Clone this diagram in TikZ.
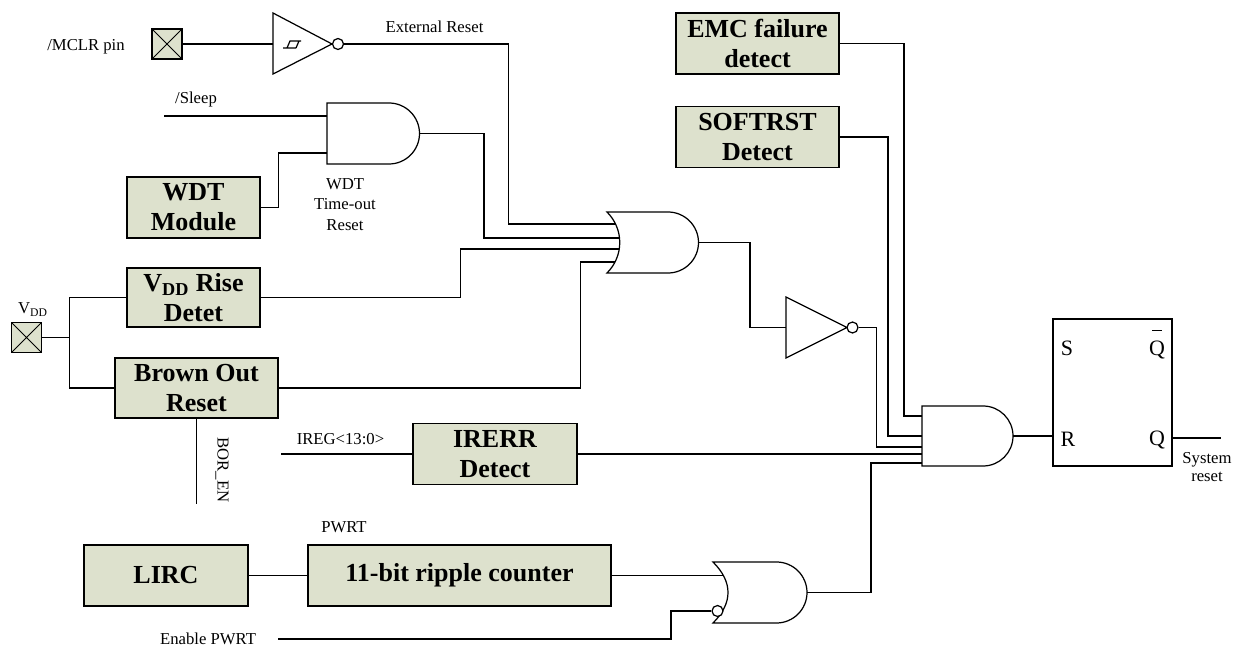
\documentclass[tikz,border=0pt]{standalone}
\usepackage{fontspec}
\setmainfont{Liberation Serif}
\definecolor{boxfill}{RGB}{221,225,205}
\tikzset{
	blk/.style={draw,line width=0.9pt,fill=boxfill,font=\fontsize{14.8}{17}\selectfont\bfseries,align=center,inner sep=0pt,minimum width=3.27cm,minimum height=1.22cm},
	lbl/.style={font=\fontsize{9.5}{11.6}\selectfont,inner sep=0pt},
	pinlbl/.style={font=\fontsize{12.5}{14}\selectfont,inner sep=0pt,anchor=base},
	pad/.style={draw,line width=0.9pt,fill=boxfill,minimum size=0.6cm,inner sep=0pt,
		path picture={\draw[line width=0.6pt] (path picture bounding box.north west) -- (path picture bounding box.south east) (path picture bounding box.north east) -- (path picture bounding box.south west);}},
	bub/.style={circle,draw,fill=white,minimum size=0.22cm,inner sep=0pt}
}
\begin{document}
\begin{tikzpicture}[x=0.02cm,y=-0.02cm,line width=0.7pt]
		\useasboundingbox (0,0) rectangle (1242,645);

		\node[pad] (mclr) at (167,44) {};
		\node[lbl,anchor=base] at (86,50.5) {/MCLR pin};
		\draw (273,13) -- (332,44) -- (273,74) -- cycle;
		\draw (283,48) -- (296,48) (287,48) -- (290,41) -- (301,41) (296,48) -- (299,41);
		\coordinate (stin) at (273,44);
		\node[bub] (stbub) at (338,44) {};
		\node[lbl,anchor=base] at (434.5,32.5) {External Reset};
		\draw (mclr) -- (stin);

		\node[lbl,anchor=base] at (196,104) {/Sleep};
		\coordinate (sleep) at (164,116);
		\draw (327,103) -- (389,103) .. controls (405.8,103) and (419.5,116.7) .. (419.5,133.5) .. controls (419.5,150.3) and (405.8,164) .. (389,164) -- (327,164) -- cycle;
		\coordinate (and1a) at (327,116);
		\coordinate (and1b) at (327,153);
		\coordinate (and1out) at (419.5,133.5);
		\node[blk,minimum width=2.66cm] (wdt) at (193.5,207.5) {WDT\\Module};
		\node[lbl,align=center] at (345,204.5) {WDT\\Time-out\\Reset};
		\draw (sleep) -- (and1a);
		\draw (wdt.east) -- ++(18,0) |- (and1b);

		\node[blk,minimum width=2.66cm,minimum height=1.18cm] (vddrise) at (193.5,297.5) {V\textsubscript{DD} Rise\\Detet};
		\node[pad] (vdd) at (26.5,337.5) {};
		\node[lbl,anchor=base] at (33,314) {V\textsubscript{DD}};
		\node[blk,minimum width=3.26cm,minimum height=1.2cm] (bor) at (196.5,388) {Brown Out\\Reset};
		\node[lbl,rotate=-90] at (222,470) {BOR\_EN};
		\draw (vdd.east) -- ++(27.5,0) coordinate (vj);
		\draw (vddrise.west) -| (vj) |- (bor.west);
		\draw (bor.south) -- ++(0,85);

		\draw (607,212) -- (668,212) .. controls (684.8,212) and (698.5,225.7) .. (698.5,242.5) .. controls (698.5,259.3) and (684.8,273) .. (668,273) -- (607,273) .. controls (624,256) and (624,229) .. (607,212) -- cycle;
		\coordinate (or1) at (615.2,224);
		\coordinate (or2) at (619.5,238);
		\coordinate (or3) at (619.1,249);
		\coordinate (or4) at (614.5,262);
		\coordinate (orout) at (698.5,242.5);
		\draw (stbub.east) -- ++(164.5,0) |- (or1);
		\draw (and1out) -- ++(64.5,0) |- (or2);
		\draw (vddrise.east) -- ++(200,0) |- (or3);
		\draw (bor.east) -- ++(302,0) |- (or4);

		\draw (786,297) -- (847,327.5) -- (786,358) -- cycle;
		\coordinate (inv2in) at (786,327.5);
		\node[bub] (inv2bub) at (852.5,327.5) {};
		\draw (orout) -- ++(51.5,0) |- (inv2in);

		\node[blk] (emc) at (757.5,43.5) {EMC failure\\detect};
		\node[blk] (soft) at (757.5,137) {SOFTRST\\Detect};

		\draw (922,406) -- (983,406) .. controls (999.6,406) and (1013,419.4) .. (1013,436) .. controls (1013,452.6) and (999.6,466) .. (983,466) -- (922,466) -- cycle;
		\coordinate (and2a) at (922,416);
		\coordinate (and2b) at (922,436);
		\coordinate (and2c) at (922,447);
		\coordinate (and2d) at (922,454);
		\coordinate (and2e) at (922,463);
		\coordinate (and2out) at (1013,436);
		\draw (emc.east) -- ++(64,0) |- (and2a);
		\draw (soft.east) -- ++(48,0) |- (and2b);
		\draw (inv2bub.east) -- ++(18,0) |- (and2c);

		\node[blk] (irerr) at (495,454) {IRERR\\Detect};
		\coordinate (ireg) at (281,454);
		\node[lbl,anchor=base] at (340.5,445) {IREG<13:0>};
		\draw (ireg) -- (irerr);
		\draw (irerr) -- (and2d);

		\node[draw,minimum width=2.38cm,minimum height=2.94cm] (ff) at (1112.5,392.5) {};
		\node[pinlbl] at (1067,356) {S};
		\node[pinlbl] at (1068,447) {R};
		\node[pinlbl] at (1157,446) {Q};
		\node[pinlbl] at (1157,356) {\makebox[0pt][l]{\hspace{0.14em}\rule[14pt]{0.45em}{0.6pt}}Q};
		\coordinate (sysrst) at (1221,438);
		\node[lbl,align=center,font=\fontsize{9.5}{10}\selectfont] at (1207,467) {System\\reset};
		\draw (and2out) -- (ff.west |- and2out);
		\draw (ff.east |- sysrst) -- (sysrst);

		\node[blk] (lirc) at (166,575.5) {LIRC};
		\node[blk,minimum width=6.06cm] (cnt) at (459.5,575.5) {11-bit ripple counter};
		\node[lbl,anchor=base] at (344,532) {PWRT};
		\coordinate (enpwrt) at (278,639);
		\node[lbl,anchor=base] at (208,644) {Enable PWRT};
		\draw (713,562) -- (776.5,562) .. controls (793.3,562) and (807,575.7) .. (807,592.5) .. controls (807,609.3) and (793.3,623) .. (776.5,623) -- (713,623) .. controls (733,603) and (733,582) .. (713,562) -- cycle;
		\coordinate (or5a) at (723,575.5);
		\coordinate (or5out) at (807,592.5);
		\node[bub] (or5bub) at (717.5,611) {};
		\draw (lirc) -- (cnt);
		\draw (cnt) -- (or5a);
		\draw (enpwrt) -- ++(393,0) |- (or5bub.west);
		\draw (or5out) -- ++(64,0) |- (and2e);
	\end{tikzpicture}
\end{document}
